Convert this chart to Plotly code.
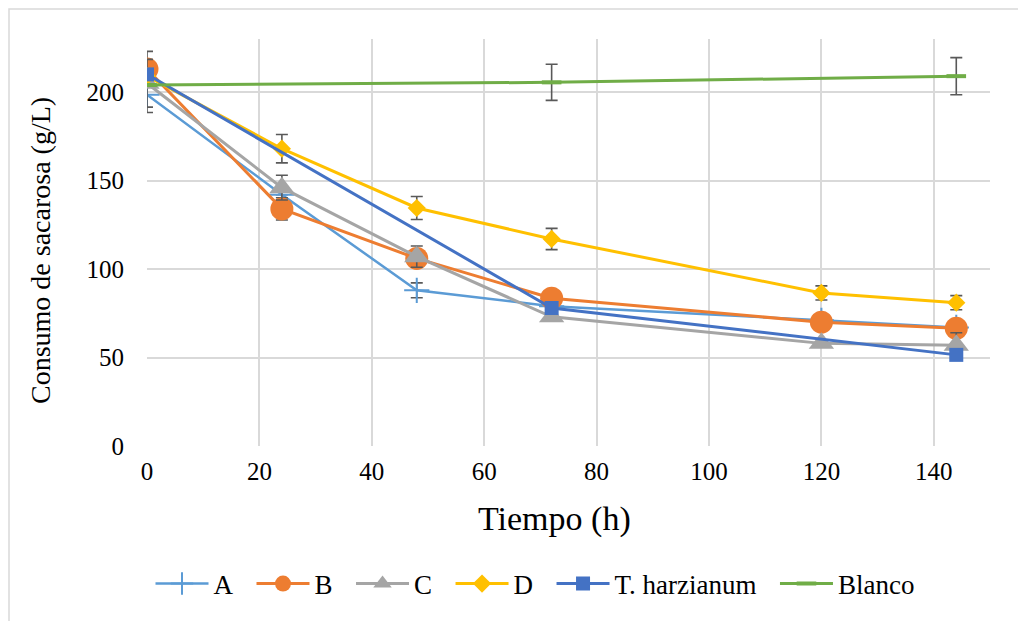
import plotly.graph_objects as go

# ---- data ----
tiempo = [0, 24, 48, 72, 120, 144]
tiempo_th = [0, 72, 144]

serie_A = [198.5, 142, 88, 79, 71, 67]
serie_B = [213, 134, 106, 83.5, 70, 66.5]
serie_C = [205, 146, 107, 73, 58, 57]
serie_D = [209, 168, 134.5, 117, 86.5, 81]
serie_T = [210, 78, 51.5]
serie_blanco = [204, 205.5, 209]

err_A = [10, None, 4.2, None, None, None]
err_B = [10, 6.3, None, None, None, None]
err_C = [13.5, 7, 6, None, None, 7]
err_D = [None, 8, 6.5, 6, 4, 4]
err_T = [None, None, None]
err_blanco = [None, 10.2, 10.5]

x_ticks = [0, 20, 40, 60, 80, 100, 120, 140]
y_ticks = [0, 50, 100, 150, 200]

names = ["A", "B", "C", "D", "T. harzianum", "Blanco"]
x_title = "Tiempo (h)"
y_title = "Consumo de sacarosa (g/L)"

# ---- styles ----
FONT = "Liberation Serif"
ERR_COLOR = "#595959"
GRID = "#D9D9D9"
PAD = "\u00a0\u00a0"

def eb(arr):
    return dict(type="data", array=arr, visible=True, color=ERR_COLOR,
                thickness=1.6, width=6)

fig = go.Figure()

fig.add_trace(go.Scatter(
    x=tiempo, y=serie_A, name=names[0] + PAD, mode="lines+markers",
    line=dict(color="#5B9BD5", width=2.5),
    marker=dict(symbol="cross-thin", size=18, color="#5B9BD5",
                line=dict(color="#5B9BD5", width=2)),
    error_y=eb(err_A)))
fig.add_trace(go.Scatter(
    x=tiempo, y=serie_B, name=names[1] + PAD, mode="lines+markers",
    line=dict(color="#ED7D31", width=3),
    marker=dict(symbol="circle", size=23, color="#ED7D31"),
    error_y=eb(err_B)))
fig.add_trace(go.Scatter(
    x=tiempo, y=serie_C, name=names[2] + PAD, mode="lines+markers",
    line=dict(color="#A5A5A5", width=3),
    marker=dict(symbol="triangle-up", size=22, color="#A5A5A5"),
    error_y=eb(err_C)))
fig.add_trace(go.Scatter(
    x=tiempo, y=serie_D, name=names[3] + PAD, mode="lines+markers",
    line=dict(color="#FFC000", width=3),
    marker=dict(symbol="diamond", size=14, color="#FFC000"),
    error_y=eb(err_D)))
fig.add_trace(go.Scatter(
    x=tiempo_th, y=serie_T, name=names[4] + PAD, mode="lines+markers",
    line=dict(color="#4472C4", width=3),
    marker=dict(symbol="square", size=14, color="#4472C4"),
    error_y=eb(err_T)))
fig.add_trace(go.Scatter(
    x=tiempo_th, y=serie_blanco, name=names[5], mode="lines+markers",
    line=dict(color="#70AD47", width=3),
    marker=dict(symbol="line-ew", size=14, color="#70AD47",
                line=dict(color="#70AD47", width=4)),
    error_y=eb(err_blanco)))

# page body has an 8px margin; figure is sized/placed to compensate
OFF = 8
W, H = 1026 - OFF, 621 - OFF
L, T = 147 - OFF, 39 - OFF
R = W + OFF - 990
B = H + OFF - 446
pw, ph = W - L - R, H - T - B

def px_x(p):
    return (p - OFF - L) / pw

def px_y(p):
    return (H - B - (p - OFF)) / ph

fig.update_layout(
    width=W, height=H,
    margin=dict(l=L, r=R, t=T, b=B),
    paper_bgcolor="white", plot_bgcolor="white",
    font=dict(family=FONT, size=25, color="#000000"),
    showlegend=True,
    legend=dict(orientation="h", x=px_x(535), y=px_y(584),
                xanchor="center", yanchor="middle",
                font=dict(family=FONT, size=27, color="#000000"),
                itemwidth=53, bgcolor="rgba(0,0,0,0)"),
    shapes=[dict(type="rect", xref="paper", yref="paper",
                 x0=px_x(9), x1=px_x(1040), y0=px_y(640), y1=px_y(9),
                 line=dict(color=GRID, width=1.5), layer="below")],
    annotations=[
        dict(text=x_title, xref="paper", yref="paper",
             x=px_x(554), y=px_y(519), xanchor="center", yanchor="middle",
             showarrow=False, font=dict(family=FONT, size=34, color="#000000")),
        dict(text=y_title, xref="paper", yref="paper", textangle=-90,
             x=px_x(40), y=px_y(251), xanchor="center", yanchor="middle",
             showarrow=False, font=dict(family=FONT, size=28, color="#000000")),
    ],
)

fig.update_xaxes(
    range=[0, 150], tickvals=x_ticks, ticktext=[str(v) for v in x_ticks],
    showgrid=True, gridcolor=GRID, gridwidth=1.5,
    showline=False, zeroline=False, ticks="",
    ticklabelstandoff=8,
    tickfont=dict(family=FONT, size=25))
fig.update_yaxes(
    range=[0, 230], tickvals=y_ticks, ticktext=[str(v) for v in y_ticks],
    showgrid=True, gridcolor=GRID, gridwidth=1.5,
    showline=False, zeroline=False, ticks="",
    ticklabelstandoff=22,
    tickfont=dict(family=FONT, size=25))

fig.write_html("out.html")
